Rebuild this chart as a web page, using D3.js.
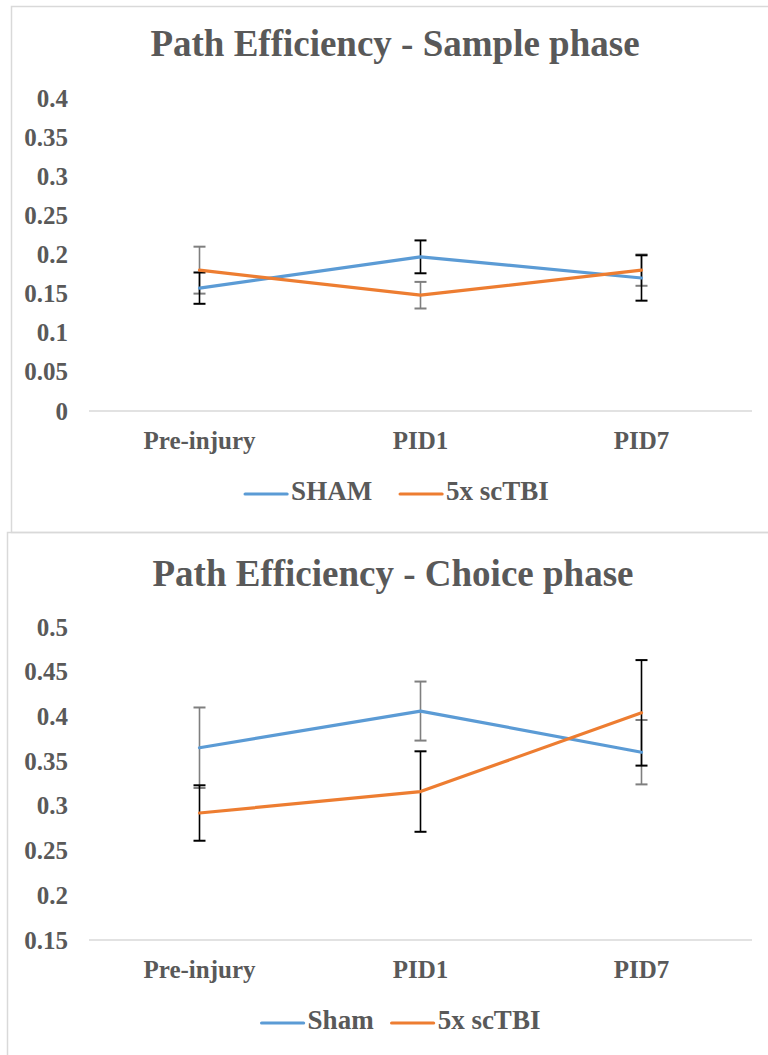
<!DOCTYPE html>
<html><head><meta charset="utf-8">
<script src="https://cdn.jsdelivr.net/npm/d3@7"></script>
<style>
html,body{margin:0;padding:0;background:#fff;}
svg{display:block;}
svg text{font-family:"Liberation Serif","Times New Roman",Times,"DejaVu Serif",serif !important;font-weight:bold;fill:#595959;}
</style></head>
<body>
<svg id="chart" width="768" height="1055"></svg>
<script>
const categories = ["Pre-injury", "PID1", "PID7"];

const sampleTitle = "Path Efficiency - Sample phase";
const sampleSham = [0.157, 0.197, 0.170];
const sampleShamErr = [0.020, 0.021, 0.029];
const sampleTbi = [0.180, 0.148, 0.180];
const sampleTbiErr = [0.030, 0.017, 0.020];
const sampleTicks = [0, 0.05, 0.1, 0.15, 0.2, 0.25, 0.3, 0.35, 0.4];
const sampleLegend = ["SHAM", "5x scTBI"];

const choiceTitle = "Path Efficiency - Choice phase";
const choiceSham = [0.365, 0.406, 0.360];
const choiceShamErr = [0.045, 0.033, 0.036];
const choiceTbi = [0.292, 0.316, 0.404];
const choiceTbiErr = [0.031, 0.045, 0.059];
const choiceTicks = [0.15, 0.2, 0.25, 0.3, 0.35, 0.4, 0.45, 0.5];
const choiceLegend = ["Sham", "5x scTBI"];

const BLUE = "#5B9BD5", ORANGE = "#ED7D31", GRAY = "#7F7F7F", BLACK = "#000000";
const FONT = '"Liberation Serif","Times New Roman",Times,"DejaVu Serif",serif';
const svg = d3.select("#chart");

function styleText(sel, size) {
  sel.attr("font-family", FONT).attr("font-weight", "bold").attr("fill", "#595959").attr("font-size", size);
}

function drawChart(cfg) {
  const g = svg.append("g");
  g.append("rect").attr("x", cfg.box[0]).attr("y", cfg.box[1]).attr("width", cfg.box[2]).attr("height", cfg.box[3])
    .attr("fill", "none").attr("stroke", "#d9d9d9").attr("stroke-width", 1.5);
  styleText(g.append("text").attr("x", cfg.titleX).attr("y", cfg.titleY).attr("text-anchor", "middle")
    .attr("dominant-baseline", "middle").text(cfg.title), 37);

  const x = d3.scaleBand().domain(categories).range([89, 752]);
  const cx = c => x(c) + x.bandwidth() / 2;
  const y = d3.scaleLinear().domain([cfg.ticks[0], cfg.ticks[cfg.ticks.length - 1]]).range(cfg.yRange);

  g.append("line").attr("x1", 89).attr("x2", 752).attr("y1", y(cfg.ticks[0])).attr("y2", y(cfg.ticks[0]))
    .attr("stroke", "#d9d9d9").attr("stroke-width", 1.5);

  const ya = g.append("g").attr("transform", "translate(72,0)")
    .call(d3.axisLeft(y).tickValues(cfg.ticks).tickSize(0).tickPadding(4).tickFormat(d => String(+d.toFixed(2))));
  ya.select(".domain").remove();
  ya.attr("font-family", FONT);
  styleText(ya.selectAll("text"), 25);

  const xa = g.append("g").attr("transform", `translate(0,${y(cfg.ticks[0])})`)
    .call(d3.axisBottom(x).tickSize(0).tickPadding(cfg.xPad));
  xa.select(".domain").remove();
  xa.attr("font-family", FONT);
  styleText(xa.selectAll("text"), 25);

  const series = [
    {vals: cfg.sham, err: cfg.shamErr, color: BLUE, errColor: cfg.shamErrColor},
    {vals: cfg.tbi, err: cfg.tbiErr, color: ORANGE, errColor: cfg.tbiErrColor}
  ];
  const order = series.slice().sort((a, b) => (a.errColor === GRAY ? -1 : 1) - (b.errColor === GRAY ? -1 : 1));
  order.forEach(s => {
    const eg = g.append("g").attr("stroke", s.errColor).attr("stroke-width", 1.6);
    categories.forEach((c, i) => {
      const hi = y(s.vals[i] + s.err[i]), lo = y(s.vals[i] - s.err[i]);
      eg.append("line").attr("x1", cx(c)).attr("x2", cx(c)).attr("y1", hi).attr("y2", lo);
      eg.append("line").attr("x1", cx(c) - 6).attr("x2", cx(c) + 6).attr("y1", hi).attr("y2", hi).attr("stroke-width", 2);
      eg.append("line").attr("x1", cx(c) - 6).attr("x2", cx(c) + 6).attr("y1", lo).attr("y2", lo).attr("stroke-width", 2);
    });
  });
  const line = d3.line().x((d, i) => cx(categories[i])).y(d => y(d));
  series.forEach(s => {
    g.append("path").datum(s.vals).attr("d", line).attr("fill", "none").attr("stroke", s.color)
      .attr("stroke-width", 3.2).attr("stroke-linejoin", "round").attr("stroke-linecap", "round");
  });

  const lg = g.append("g");
  const items = [{label: cfg.legend[0], color: BLUE}, {label: cfg.legend[1], color: ORANGE}];
  let cur = 0;
  const placed = [];
  items.forEach(it => {
    const ig = lg.append("g");
    ig.append("line").attr("x1", 0).attr("x2", 42).attr("y1", 0).attr("y2", 0)
      .attr("stroke", it.color).attr("stroke-width", 3.2).attr("stroke-linecap", "round");
    const t = ig.append("text").attr("x", 46).attr("y", 0).attr("dominant-baseline", "middle").text(it.label);
    styleText(t, 27);
    const w = 46 + t.node().getComputedTextLength();
    placed.push({ig, start: cur});
    cur += w + cfg.legendGap;
  });
  const total = cur - cfg.legendGap;
  const start = cfg.legendCx - total / 2;
  placed.forEach(p => p.ig.attr("transform", `translate(${start + p.start},${cfg.legendY})`));
}

drawChart({
  box: [11.5, 6.5, 800, 526], title: sampleTitle, titleX: 395, titleY: 48,
  ticks: sampleTicks, yRange: [411, 98], xPad: 20,
  sham: sampleSham, shamErr: sampleShamErr, shamErrColor: BLACK,
  tbi: sampleTbi, tbiErr: sampleTbiErr, tbiErrColor: GRAY,
  legend: sampleLegend, legendCx: 397, legendY: 494, legendGap: 28
});
drawChart({
  box: [7.5, 532.5, 800, 600], title: choiceTitle, titleX: 393, titleY: 578,
  ticks: choiceTicks, yRange: [940, 627], xPad: 20,
  sham: choiceSham, shamErr: choiceShamErr, shamErrColor: GRAY,
  tbi: choiceTbi, tbiErr: choiceTbiErr, tbiErrColor: BLACK,
  legend: choiceLegend, legendCx: 401, legendY: 1023, legendGap: 18
});
</script>
</body></html>
